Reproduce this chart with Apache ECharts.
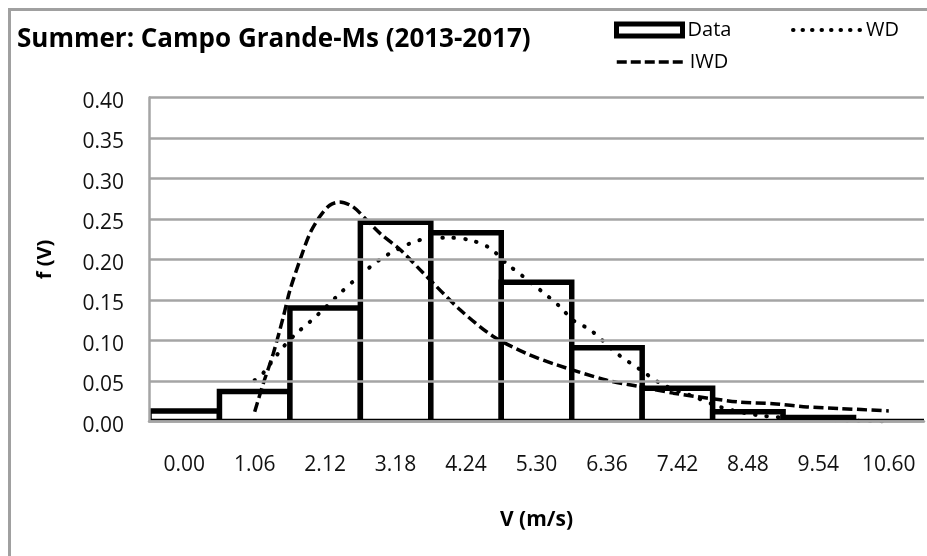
<!DOCTYPE html>
<html>
<head>
<meta charset="utf-8">
<script src="https://cdn.jsdelivr.net/npm/echarts@6/dist/echarts.min.js"></script>
<style>
  html, body { margin: 0; padding: 0; background: #fff; }
  #chart { width: 927px; height: 556px; }
</style>
</head>
<body>
<div id="chart"></div>
<script>
// ---- Data ----
const categories = ['0.00', '1.06', '2.12', '3.18', '4.24', '5.30', '6.36', '7.42', '8.48', '9.54', '10.60'];
const dataFreq = [0.013, 0.037, 0.140, 0.246, 0.233, 0.172, 0.091, 0.041, 0.012, 0.005, 0];

const wdV = [1.06, 1.19, 1.32, 1.49, 1.69, 1.89, 2.14, 2.34, 2.57, 2.80, 3.00, 3.20, 3.40, 3.60, 3.95, 4.30, 4.60, 4.85, 5.10, 5.36, 5.65, 5.85, 6.11, 6.51, 6.86, 7.21, 7.66, 8.06, 8.61, 9.37, 10.60];
const wdF = [0.051, 0.060, 0.074, 0.092, 0.109, 0.123, 0.142, 0.158, 0.175, 0.191, 0.203, 0.212, 0.220, 0.225, 0.227, 0.224, 0.214, 0.195, 0.179, 0.162, 0.142, 0.125, 0.113, 0.084, 0.064, 0.045, 0.031, 0.018, 0.008, 0.003, 0.000];

const iwdV = [1.06, 1.19, 1.34, 1.49, 1.59, 1.74, 1.89, 2.04, 2.19, 2.34, 2.54, 2.74, 2.95, 3.25, 3.60, 4.15, 4.65, 5.15, 5.60, 6.36, 6.86, 7.36, 7.86, 8.36, 8.86, 9.37, 9.87, 10.60];
const iwdF = [0.012, 0.047, 0.084, 0.129, 0.162, 0.199, 0.232, 0.253, 0.267, 0.271, 0.265, 0.249, 0.232, 0.212, 0.183, 0.138, 0.105, 0.084, 0.070, 0.051, 0.043, 0.035, 0.029, 0.024, 0.022, 0.018, 0.016, 0.013];

const yTicks = { min: 0, max: 0.40, interval: 0.05 };
const titleText = 'Summer: Campo Grande-Ms (2013-2017)';

// ---- Chart ----
const FONT = 'Open Sans';
const chart = echarts.init(document.getElementById('chart'), null, { renderer: 'canvas' });
const binStep = 1.06;
const pair = (xs, ys) => xs.map((v, i) => [v, ys[i]]);
const BAR_BORDER = 5.5;

const option = {
  animation: false,
  backgroundColor: '#fff',
  textStyle: { fontFamily: FONT },
  graphic: [{
    type: 'rect',
    shape: { x: 9.5, y: 9.5, width: 1200, height: 1200 },
    style: { fill: 'none', stroke: '#a0a0a0', lineWidth: 3 },
    silent: true, z: -10
  }],
  title: {
    text: titleText,
    left: 12, top: 22,
    textStyle: { fontFamily: FONT, fontSize: 26, fontWeight: 'bold', color: '#000' }
  },
  legend: [
    {
      data: ['Data'], left: 609, top: 15,
      itemWidth: 66, itemHeight: 12, itemGap: 0,
      icon: 'rect',
      itemStyle: { color: '#fff', borderColor: '#000', borderWidth: 5 },
      textStyle: { fontFamily: FONT, fontSize: 20, color: '#000' }
    },
    {
      data: ['WD'], left: 786, top: 15,
      itemWidth: 68, itemHeight: 14, itemGap: 0,
      itemStyle: { color: 'rgba(0,0,0,0)', borderWidth: 0 },
      lineStyle: { color: '#000', width: 4, type: [0.5, 9], cap: 'round' },
      textStyle: { fontFamily: FONT, fontSize: 20, color: '#000' }
    },
    {
      data: ['IWD'], left: 610, top: 47,
      itemWidth: 68, itemHeight: 14, itemGap: 0,
      itemStyle: { color: 'rgba(0,0,0,0)', borderWidth: 0 },
      lineStyle: { color: '#000', width: 3.5, type: [10, 4] },
      textStyle: { fontFamily: FONT, fontSize: 20, color: '#000' }
    }
  ],
  grid: { left: 149, right: 3, top: 97.5, bottom: 556 - 421.5, containLabel: false },
  xAxis: [
    {
      type: 'category',
      data: categories,
      name: 'V (m/s)',
      nameLocation: 'middle',
      nameGap: 88,
      nameTextStyle: { fontFamily: FONT, fontSize: 21, fontWeight: 'bold', color: '#000' },
      axisLine: { show: true, onZero: false, lineStyle: { color: '#a5a5a5', width: 2.5 } },
      axisTick: { show: false },
      axisLabel: { margin: 33, fontFamily: FONT, fontSize: 21, color: '#111' },
      splitLine: { show: false },
      z: 6
    },
    {
      type: 'value',
      show: false,
      min: -binStep / 2,
      max: 10.60 + binStep / 2,
      position: 'bottom',
      axisLine: { onZero: false },
      splitLine: { show: false }
    }
  ],
  yAxis: {
    type: 'value',
    min: yTicks.min, max: yTicks.max, interval: yTicks.interval,
    name: 'f (V)',
    nameLocation: 'middle',
    nameGap: 94,
    nameRotate: 90,
    nameTextStyle: { fontFamily: FONT, fontSize: 20, fontWeight: 'bold', color: '#000' },
    axisLine: { show: true, onZero: false, lineStyle: { color: '#a5a5a5', width: 2.5 } },
    axisTick: { show: false },
    axisLabel: {
      margin: 25, fontFamily: FONT, fontSize: 21, color: '#111',
      verticalAlign: 'top', lineHeight: 9,
      formatter: v => v.toFixed(2)
    },
    splitLine: { show: true, lineStyle: { color: '#a5a5a5', width: 2.5 } },
    z: 6
  },
  series: [
    {
      name: 'Data',
      type: 'custom',
      xAxisIndex: 0,
      clip: true,
      data: dataFreq.map((f, i) => [i, f]),
      renderItem: function (params, api) {
        const top = api.coord([api.value(0), api.value(1)]);
        const base = api.coord([api.value(0), 0]);
        const w = api.size([1, 0])[0];
        return {
          type: 'rect',
          shape: { x: top[0] - w / 2, y: top[1], width: w, height: base[1] - top[1] },
          style: { fill: '#fff', stroke: '#000', lineWidth: BAR_BORDER }
        };
      },
      itemStyle: { color: '#fff', borderColor: '#000' },
      z: 2
    },
    {
      name: 'WD',
      type: 'line',
      xAxisIndex: 1,
      data: pair(wdV, wdF),
      symbol: 'none',
      smooth: 0.3,
      lineStyle: { color: '#000', width: 4, type: [0.5, 11], cap: 'round' },
      z: 4
    },
    {
      name: 'IWD',
      type: 'line',
      xAxisIndex: 1,
      data: pair(iwdV, iwdF),
      symbol: 'none',
      smooth: 0.3,
      lineStyle: { color: '#000', width: 3.5, type: [10, 4.5] },
      z: 4
    }
  ]
};
chart.setOption(option);
</script>
</body>
</html>
